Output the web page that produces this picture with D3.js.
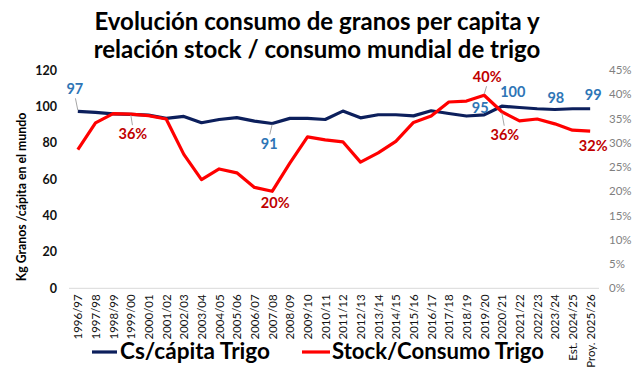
<!DOCTYPE html>
<html>
<head>
<meta charset="utf-8">
<script src="https://cdn.jsdelivr.net/npm/d3@7/dist/d3.min.js"></script>
<style>
  html, body { margin: 0; padding: 0; background: #fff; }
  svg { display: block; }
</style>
</head>
<body>
<svg id="chart" width="634" height="377"></svg>
<script>
// ---------- DATA ----------
const categories = [
  "1996/97","1997/98","1998/99","1999/00","2000/01","2001/02","2002/03","2003/04",
  "2004/05","2005/06","2006/07","2007/08","2008/09","2009/10","2010/11","2011/12",
  "2012/13","2013/14","2014/15","2015/16","2016/17","2017/18","2018/19","2019/20",
  "2020/21","2021/22","2022/23","2023/24","Est. 2024/25","Proy. 2025/26"
];
// Kg granos / cápita (left axis)
const perCapita = [
  97.3, 96.7, 95.9, 95.6, 95.2, 93.4, 94.5, 91.0, 92.8, 93.8,
  91.9, 90.6, 93.4, 93.4, 92.8, 97.4, 93.7, 95.4, 95.4, 94.8,
  97.6, 96.1, 94.7, 95.3, 100.1, 99.4, 98.7, 98.3, 98.7, 98.7
];
// Stock / consumo (right axis, %)
const stockRatio = [
  28.6, 34.1, 36.0, 35.9, 35.6, 34.9, 27.6, 22.4, 24.6, 23.8,
  20.8, 20.0, 25.8, 31.2, 30.6, 30.2, 26.0, 27.9, 30.3, 34.2,
  35.5, 38.4, 38.6, 39.8, 36.4, 34.5, 34.9, 33.9, 32.6, 32.4
];
const leftTicks = [0, 20, 40, 60, 80, 100, 120];
const rightTicks = [0, 5, 10, 15, 20, 25, 30, 35, 40, 45];
const perCapitaLabels = [
  {i: 0, text: "97"}, {i: 11, text: "91"}, {i: 23, text: "95"},
  {i: 24, text: "100"}, {i: 27, text: "98"}, {i: 29, text: "99"}
];
const stockLabels = [
  {i: 3, text: "36%"}, {i: 11, text: "20%"}, {i: 23, text: "40%"},
  {i: 24, text: "36%"}, {i: 29, text: "32%"}
];
const titleLines = ["Evolución consumo de granos per capita y", "relación stock / consumo mundial de trigo"];
const yTitle = "Kg Granos /cápita en el mundo";
const seriesNames = ["Cs/cápita Trigo", "Stock/Consumo Trigo"];

// ---------- LAYOUT / STYLE ----------
const BLUE = "#0c1f5c", RED = "#ff0000", BLUE_LBL = "#2e75b6", RED_LBL = "#c00000";
const svg = d3.select("#chart");
const plot = {left: 69, right: 599, top: 70, bottom: 288.3};

const x = d3.scalePoint().domain(categories).range([plot.left, plot.right]).padding(0.5);
const yL = d3.scaleLinear().domain([0, 120]).range([plot.bottom, plot.top]);
const yR = d3.scaleLinear().domain([0, 45]).range([plot.bottom, plot.top]);

// Title
svg.append("g").selectAll("text").data(titleLines).join("text")
  .attr("x", 317).attr("y", (d, i) => 30 + i * 27.5)
  .attr("text-anchor", "middle")
  .attr("font-family", "Lato, 'Open Sans', sans-serif")
  .attr("font-weight", 700).attr("font-size", 24).attr("fill", "#000")
  .text(d => d);

// Baseline grid line at 0
svg.append("line")
  .attr("x1", plot.left).attr("x2", plot.right)
  .attr("y1", yL(0)).attr("y2", yL(0))
  .attr("stroke", "#d9d9d9").attr("stroke-width", 1);

// Left axis
const axL = d3.axisLeft(yL).tickValues(leftTicks).tickSize(0).tickPadding(0);
const gL = svg.append("g").attr("transform", "translate(57,0)").call(axL);
gL.select(".domain").remove();
gL.selectAll("text").attr("font-family", "Lato, sans-serif").attr("font-weight", 700)
  .attr("font-size", 12.5).attr("fill", "#111");

// Right axis
const axR = d3.axisRight(yR).tickValues(rightTicks).tickFormat(d => d + "%").tickSize(0).tickPadding(0);
const gR = svg.append("g").attr("transform", "translate(609,0)").call(axR);
gR.select(".domain").remove();
gR.selectAll("text").attr("font-family", "Lato, sans-serif")
  .attr("font-size", 11.5).attr("fill", "#7f7f7f");

// Y axis title
svg.append("text")
  .attr("transform", "translate(26,197) rotate(-90)")
  .attr("text-anchor", "middle")
  .attr("font-family", "Lato, sans-serif").attr("font-weight", 700).attr("font-size", 12.3)
  .attr("fill", "#000").text(yTitle);

// X axis labels
const axX = d3.axisBottom(x).tickSize(0).tickPadding(0);
const gX = svg.append("g").attr("transform", `translate(0,${plot.bottom})`).call(axX);
gX.select(".domain").remove();
gX.selectAll("text")
  .attr("transform", "rotate(-90)")
  .attr("text-anchor", "end")
  .attr("x", -6).attr("y", 0).attr("dy", "0.35em")
  .attr("font-family", "'Liberation Sans Narrow', Lato, sans-serif")
  .attr("font-size", 11.5).attr("fill", "#111");

// Lines
const lineL = d3.line().x((d, i) => x(categories[i])).y(d => yL(d));
const lineR = d3.line().x((d, i) => x(categories[i])).y(d => yR(d));
svg.append("path").datum(perCapita).attr("d", lineL)
  .attr("fill", "none").attr("stroke", BLUE).attr("stroke-width", 3.2).attr("stroke-linejoin", "round");
svg.append("path").datum(stockRatio).attr("d", lineR)
  .attr("fill", "none").attr("stroke", RED).attr("stroke-width", 3.2).attr("stroke-linejoin", "round");

// Data labels (offsets relative to point)
const blueOffsets = {0: [-3, -22, true], 11: [-3, 20, true], 23: [-4, -7, false], 24: [11, -14, false], 27: [1, -12, false], 29: [3, -14, false]};
const redOffsets = {3: [2, 20, true], 11: [3, 12, false], 23: [3, -18, true], 24: [3, 23, true], 29: [3, 15, false]};

function drawLabels(labels, values, yScale, offsets, color) {
  labels.forEach(l => {
    const px = x(categories[l.i]), py = yScale(values[l.i]);
    const [dx, dy, leader] = offsets[l.i];
    if (leader) {
      const sgn = dy < 0 ? -1 : 1;
      svg.append("line")
        .attr("x1", px).attr("y1", py + sgn * 1)
        .attr("x2", px + dx * 0.8).attr("y2", py + dy - sgn * 9)
        .attr("stroke", "#a6a6a6").attr("stroke-width", 1);
    }
    svg.append("text")
      .attr("x", px + dx).attr("y", py + dy).attr("dy", "0.35em")
      .attr("text-anchor", "middle")
      .attr("font-family", "Lato, sans-serif").attr("font-size", 14.5).attr("font-weight", 700)
      .attr("fill", color).text(l.text);
  });
}
drawLabels(perCapitaLabels, perCapita, yL, blueOffsets, BLUE_LBL);
drawLabels(stockLabels, stockRatio, yR, redOffsets, RED_LBL);

// Legend
const legend = [
  {name: seriesNames[0], color: BLUE, x0: 92, x1: 117, tx: 120, w: 150},
  {name: seriesNames[1], color: RED, x0: 302, x1: 330, tx: 332, w: 212}
];
legend.forEach(d => {
  svg.append("line").attr("x1", d.x0).attr("x2", d.x1).attr("y1", 352).attr("y2", 352)
    .attr("stroke", d.color).attr("stroke-width", 3.2);
  svg.append("text").attr("x", d.tx).attr("y", 359)
    .attr("font-family", "Lato, sans-serif").attr("font-weight", 700).attr("font-size", 23)
    .attr("textLength", d.w).attr("lengthAdjust", "spacingAndGlyphs")
    .attr("fill", "#000").text(d.name);
});
</script>
</body>
</html>
